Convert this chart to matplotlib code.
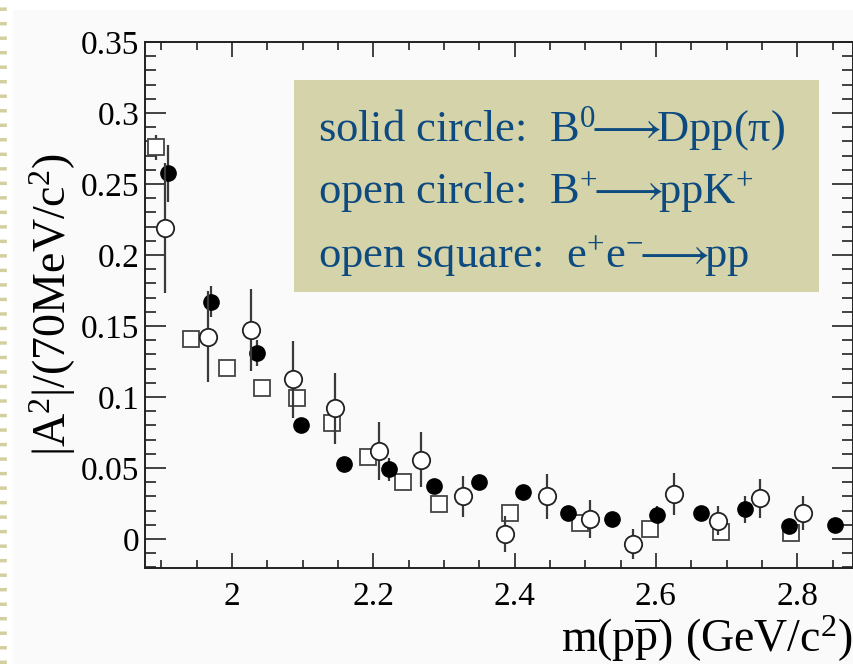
import numpy as np
import matplotlib.pyplot as plt
from matplotlib.patches import Rectangle
from matplotlib.lines import Line2D
from matplotlib.ticker import MultipleLocator

plt.rcParams['font.family'] = ['Liberation Serif', 'DejaVu Serif']
plt.rcParams['mathtext.fontset'] = 'custom'
plt.rcParams['mathtext.rm'] = 'Liberation Serif'
plt.rcParams['mathtext.it'] = 'Liberation Serif'
plt.rcParams['mathtext.bf'] = 'Liberation Serif:bold'

# solid circle: B0 -> D p pbar (pi)
solid_x = [1.909, 1.970, 2.035, 2.098, 2.159, 2.223, 2.286, 2.350,
           2.412, 2.475, 2.538, 2.601, 2.664, 2.726, 2.789, 2.853]
solid_y = [0.2575, 0.167, 0.131, 0.080, 0.053, 0.049, 0.037, 0.040,
           0.033, 0.018, 0.014, 0.017, 0.0185, 0.021, 0.009, 0.010]
solid_err = [0.020, 0.011, 0.009, 0.005, 0.004, 0.008, 0.005, 0.004,
             0.004, 0.004, 0.004, 0.006, 0.005, 0.0095, 0.005, 0.004]

# open circle: B+ -> p pbar K+
open_x = [1.906, 1.966, 2.027, 2.087, 2.146, 2.2075, 2.267, 2.327,
          2.387, 2.446, 2.507, 2.568, 2.626, 2.688, 2.748, 2.808]
open_y = [0.219, 0.1425, 0.147, 0.1125, 0.092, 0.062, 0.056, 0.030,
          0.0035, 0.030, 0.014, -0.0037, 0.0317, 0.013, 0.0286, 0.0185]
open_err = [0.046, 0.032, 0.029, 0.027, 0.025, 0.0205, 0.0194, 0.0147,
            0.0125, 0.0158, 0.0135, 0.0106, 0.0148, 0.010, 0.0137, 0.012]

# open square: e+e- -> p pbar
sq_x = [1.892, 1.942, 1.9925, 2.043, 2.092, 2.141, 2.1925, 2.242,
        2.293, 2.393, 2.4926, 2.592, 2.692, 2.7915]
sq_y = [0.2758, 0.1406, 0.1207, 0.1061, 0.0995, 0.0819, 0.058, 0.0404,
        0.0244, 0.0185, 0.0115, 0.007, 0.0047, 0.0044]
sq_err = [0.009, 0, 0, 0, 0, 0, 0, 0, 0, 0, 0, 0, 0, 0]

legend_lines = [r'solid circle:  B$^{0}\!\!\longrightarrow\!\!$Dpp(π)',
                r'open circle:  B$^{+}\!\!\longrightarrow\!\!$ppK$^{+}$',
                r'open square:  e$^{+}$e$^{-}\!\!\longrightarrow\!\!$pp']

fig = plt.figure(figsize=(8.54, 6.64), dpi=100)
fig.patch.set_facecolor('white')
# slide panel background and dashed left border
fig.patches.append(Rectangle((13 / 854, 0), 1, 1 - 10 / 664, transform=fig.transFigure,
                             facecolor='#fafafa', edgecolor='none', zorder=-10))
fig.lines.append(Line2D([3 / 854, 3 / 854], [0, 1], transform=fig.transFigure,
                        color='#d3cf9f', lw=5.5, linestyle=(0, (0.45, 1.45))))

ax = fig.add_axes([145 / 854, 1 - 568 / 664, 708 / 854, 526 / 664])
ax.set_facecolor('#fafafa')

ecol = '#3a3a3a'
ax.errorbar(sq_x, sq_y, yerr=sq_err, fmt='s', ms=12, mfc='white', mec='#444444',
            mew=1.3, ecolor=ecol, elinewidth=1.6, capsize=0, zorder=3)
ax.errorbar(solid_x, solid_y, yerr=solid_err, fmt='o', ms=11, mfc='black', mec='black',
            ecolor=ecol, elinewidth=1.6, capsize=0, zorder=4)
ax.errorbar(open_x, open_y, yerr=open_err, fmt='o', ms=12.5, mfc='white', mec='#222222',
            mew=1.3, ecolor=ecol, elinewidth=1.6, capsize=0, zorder=5)

ax.set_xlim(1.877, 2.879)
ax.set_ylim(-0.0204, 0.35)

ax.xaxis.set_major_locator(MultipleLocator(0.2))
ax.xaxis.set_minor_locator(MultipleLocator(0.05))
ax.yaxis.set_major_locator(MultipleLocator(0.05))
ax.yaxis.set_minor_locator(MultipleLocator(0.01))
ax.xaxis.set_major_formatter(plt.FuncFormatter(lambda v, p: f'{v:g}'))
ax.yaxis.set_major_formatter(plt.FuncFormatter(lambda v, p: f'{v:g}'))

ax.tick_params(which='both', direction='in', top=True, right=True, color='#333333', width=1.3)
ax.tick_params(axis='y', which='major', length=15, labelsize=24, pad=4)
ax.tick_params(axis='y', which='minor', length=8)
ax.tick_params(axis='x', which='major', length=11, labelsize=24, pad=10)
ax.tick_params(axis='x', which='minor', length=6)
for s in ax.spines.values():
    s.set_linewidth(1.4)
    s.set_color('#222222')

ax.set_xlabel(r'$\mathrm{m(p\overline{p})\ (GeV/c^{2})}$', fontsize=33, loc='right', labelpad=1)
ax.set_ylabel(r'$\mathrm{|A^{2}|/(70MeV/c^{2})}$', fontsize=33, labelpad=2)

# legend box
ax.add_patch(Rectangle((0.2105, 0.525), 0.7415, 0.403, transform=ax.transAxes,
                       facecolor='#d5d3a9', edgecolor='none', zorder=6))
for txt, yb in zip(legend_lines, [0.812, 0.692, 0.570]):
    ax.text(0.244, yb, txt, transform=ax.transAxes, fontsize=32, color='#0c4a80',
            va='baseline', ha='left', zorder=7)

fig.savefig('out.png', dpi=100)
